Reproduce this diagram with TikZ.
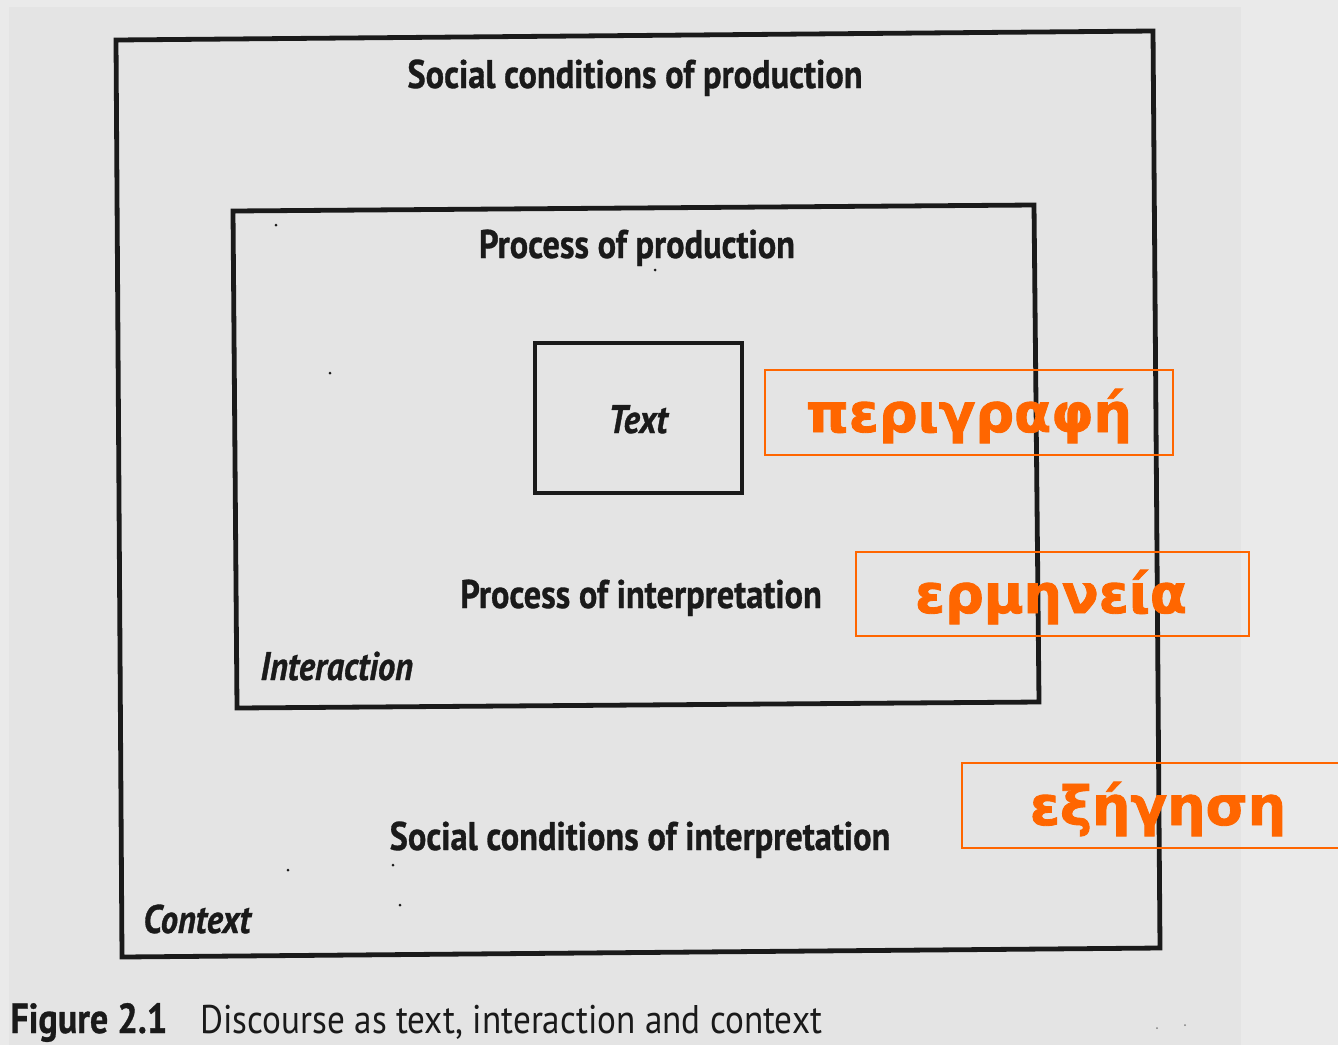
\documentclass[tikz,border=0pt]{standalone}
\usepackage{fontspec}
\setmainfont{PT Sans}
\newfontfamily\scanfont[FakeStretch=0.86, BoldFeatures={FakeBold=0.8}, BoldItalicFeatures={FakeBold=0.8}]{PT Sans}
\newfontfamily\capfont[FakeStretch=0.88]{PT Sans}
\newfontfamily\greekfont[BoldFeatures={FakeBold=1.6}]{DejaVu Sans}
\definecolor{bgout}{HTML}{EAEAEA}
\definecolor{bgin}{HTML}{E4E4E4}
\definecolor{ink}{HTML}{1A1A1A}
\definecolor{orng}{HTML}{FF6600}
\tikzset{
  frame/.style={draw=ink, line width=2.4pt, line join=miter},
  lbl/.style={anchor=base, inner sep=0pt, text=ink, font=\scanfont\bfseries\fontsize{20}{22}\selectfont},
  ilbl/.style={lbl, font=\scanfont\bfseries\itshape\fontsize{20}{22}\selectfont},
  gbox/.style={draw=orng, line width=1pt},
  glbl/.style={anchor=base, inner sep=0pt, text=orng, font=\greekfont\bfseries\fontsize{27}{30}\selectfont},
  speck/.style={fill=ink}
}
\begin{document}
\begin{tikzpicture}[x=0.5pt,y=-0.5pt]
\useasboundingbox (0,0) rectangle (1338,1045);
\clip (0,0) rectangle (1338,1045);
\fill[bgout] (0,0) rectangle (1338,1045);
\fill[bgin] (9,7) rectangle (1241,1045);
% context box
\draw[frame] (116,40) -- (1153,31) -- (1160,948) -- (122,957) -- cycle;
% interaction box
\draw[frame] (233,211) -- (1034,205) -- (1039,702) -- (237,708) -- cycle;
% text box
\draw[frame] (535,343) rectangle (742,493);
% labels
\node[lbl] (scp) at (635,88) {Social conditions of production};
\node[lbl] (pp) at (637,258) {Process of production};
\node[ilbl] (txt) at (638,433) {Text};
\node[lbl] (pi) at (641,608) {Process of interpretation};
\node[ilbl, anchor=base west] (inter) at (260,680) {Interaction};
\node[lbl] (sci) at (640,850) {Social conditions of interpretation};
\node[ilbl, anchor=base west] (ctx) at (143,933) {Context};
\node[lbl, anchor=base west, font=\scanfont\bfseries\fontsize{21}{22}\selectfont] (fig) at (10,1033) {Figure 2.1};
\node[lbl, anchor=base west, font=\capfont\fontsize{20}{22}\selectfont] (cap) at (200,1033) {Discourse as text, interaction and context};
% orange boxes
\draw[gbox] (765,370) rectangle (1173,455);
\node[glbl] (perigrafi) at (969,432) {περιγραφή};
\draw[gbox] (856,552) rectangle (1249,636);
\node[glbl] (ermineia) at (1051,613) {ερμηνεία};
\draw[gbox] (962,763) rectangle (1345,848);
\node[glbl] (exigisi) at (1158,825) {εξήγηση};
% specks
\foreach \p in {(276,225),(330,373),(655,270),(288,870),(400,905),(393,865)}
  \fill[speck] \p circle (1.5);
\fill[gray] (1157,1028) circle (1);
\fill[gray] (1185,1025) circle (1);
\end{tikzpicture}
\end{document}
